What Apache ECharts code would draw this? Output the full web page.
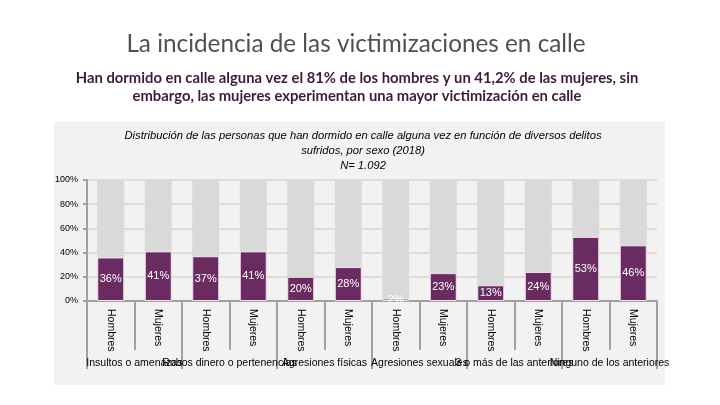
<!DOCTYPE html>
<html><head><meta charset="utf-8">
<script src="https://cdn.jsdelivr.net/npm/echarts@6/dist/echarts.min.js"></script>
<style>html,body{margin:0;padding:0;background:#fff}#c{width:720px;height:405px}</style>
</head><body><div id="c"></div>
<script>
const sexLabels = ['Hombres','Mujeres','Hombres','Mujeres','Hombres','Mujeres','Hombres','Mujeres','Hombres','Mujeres','Hombres','Mujeres'];
const groups = ['Insultos o amenazas','Robos dinero o pertenencias','Agresiones físicas','Agresiones sexuales','3 o más de las anteriores','Ninguno de los anteriores'];
const victimized = [36, 41, 37, 41, 20, 28, 2, 23, 13, 24, 53, 46];
const remainder = victimized.map(v => 100 - v);
const yTicks = [0, 20, 40, 60, 80, 100];

const chart = echarts.init(document.getElementById('c'));
const axisGrey = '#a0a0a0';
chart.setOption({
  animation: false,
  backgroundColor: '#ffffff',
  graphic: [{type:'rect', z:-10, shape:{x:54,y:122,width:611,height:263}, style:{fill:'#f2f2f2'}}],
  title: [
    {text:'La incidencia de las victimizaciones en calle', left:351, textAlign:'center', top:27,
     textStyle:{fontFamily:'Lato', fontSize:24.3, fontWeight:'normal', color:'#505050'}},
    {text:'Han dormido en calle alguna vez el 81% de los hombres y un 41,2% de las mujeres, sin\nembargo, las mujeres experimentan una mayor victimización en calle', left:352, textAlign:'center', top:64,
     textStyle:{fontFamily:'Lato', fontSize:14.8, fontWeight:'bold', color:'#3b1d3a', lineHeight:18, align:'center'}},
    {text:'Distribución de las personas que han dormido en calle alguna vez en función de diversos delitos\nsufridos, por sexo (2018)\nN= 1.092', left:358, textAlign:'center', top:123,
     textStyle:{fontFamily:'Liberation Sans', fontSize:11.2, fontStyle:'italic', fontWeight:'normal', color:'#000', lineHeight:15, align:'center'}}
  ],
  grid: {left:87, right:63, top:180, bottom:104},
  yAxis: {type:'value', min:0, max:100, interval:20,
    axisLine:{show:true, lineStyle:{color:axisGrey, width:2}},
    axisTick:{show:true, length:4, lineStyle:{color:axisGrey, width:2}},
    splitLine:{lineStyle:{color:'#e0dccf', width:2}},
    axisLabel:{formatter: v => yTicks.includes(v) ? v + '%' : '', fontFamily:'Liberation Sans', fontSize:9, color:'#000', margin:9}},
  xAxis: [
    {type:'category', data:sexLabels, position:'bottom',
     axisLine:{lineStyle:{color:axisGrey, width:2}},
     axisTick:{show:true, interval:0, length:49, lineStyle:{color:axisGrey, width:2}},
     axisLabel:{interval:0, rotate:-90, margin:8, fontFamily:'Liberation Sans', fontSize:10.5, color:'#000'}},
    {type:'category', data:groups, position:'bottom',
     axisLine:{show:false},
     axisTick:{show:true, interval:0, length:68, lineStyle:{color:axisGrey, width:2}},
     axisLabel:{interval:0, margin:57, fontFamily:'Liberation Sans', fontSize:10.5, color:'#000'}}
  ],
  series: [
    {type:'bar', stack:'s', data:victimized, barWidth:27, xAxisIndex:0,
     itemStyle:{color:'#6a2c60', borderColor:'#f3dff0', borderWidth:1},
     label:{show:true, position:'inside', formatter:'{c}%', color:'#fff', fontFamily:'Liberation Sans', fontSize:11}},
    {type:'bar', stack:'s', data:remainder, barWidth:27, xAxisIndex:0,
     itemStyle:{color:'#d9d9d9'}}
  ]
});
</script></body></html>
